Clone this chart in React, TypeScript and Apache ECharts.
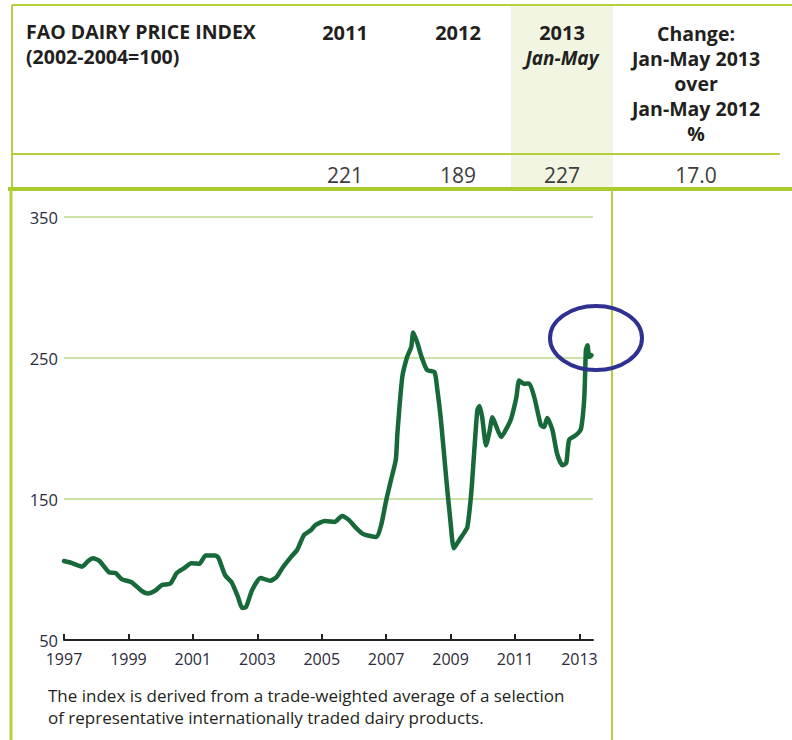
import React, { useEffect, useRef } from "react";
import * as echarts from "echarts";

// FAO Dairy Price Index (2002-2004=100)
const years = [
  1997.0, 1997.25, 1997.56, 1997.75, 1997.9, 1998.1, 1998.4, 1998.6, 1998.8, 1999.1,
  1999.4, 1999.6, 1999.86, 2000.04, 2000.3, 2000.5, 2000.73, 2000.95, 2001.2, 2001.4,
  2001.7, 2001.8, 2002.0, 2002.2, 2002.4, 2002.53, 2002.65, 2002.84, 2003.1, 2003.4,
  2003.6, 2003.8, 2004.05, 2004.24, 2004.45, 2004.67, 2004.8, 2005.1, 2005.4, 2005.63,
  2005.85, 2006.07, 2006.3, 2006.7, 2006.85, 2007.0, 2007.15, 2007.3, 2007.35, 2007.5,
  2007.65, 2007.78, 2007.84, 2007.97, 2008.1, 2008.27, 2008.5, 2008.58, 2008.7, 2008.86,
  2009.0, 2009.1, 2009.27, 2009.42, 2009.52, 2009.64, 2009.73, 2009.83, 2009.9, 2009.98,
  2010.1, 2010.2, 2010.3, 2010.4, 2010.57, 2010.76, 2010.88, 2011.04, 2011.13, 2011.29,
  2011.44, 2011.6, 2011.8, 2011.9, 2012.0, 2012.16, 2012.3, 2012.47, 2012.59, 2012.68,
  2012.9, 2013.05, 2013.15, 2013.2, 2013.25, 2013.3, 2013.37,
];
const values = [
  106, 104.5, 102, 106, 108, 106, 98, 97.5, 93, 91,
  85, 83, 85.5, 89, 90, 97.5, 101, 104.5, 104, 110,
  110, 108, 96, 91, 80.5, 72.7, 73.4, 85.5, 94, 92,
  94.7, 101.8, 109, 114, 124.5, 128, 131.5, 134.4, 133.7, 138,
  135, 129.4, 125, 123, 132, 149, 163.5, 178, 197, 236.5,
  250.7, 258, 268, 260.6, 250.7, 241.5, 240, 229, 206, 165.6,
  133, 115, 121, 126, 130, 154, 182.6, 213, 216, 208,
  188, 197, 208, 202.5, 194, 201, 207, 222, 234, 231.6,
  232, 222, 202.5, 201, 207.5, 199, 182.6, 174, 175.5, 192,
  195.4, 200, 222, 255.7, 259, 250.7, 252,
];

const startYear = 1997;
const endYear = 2013.42;
const xTickYears = [1997, 1999, 2001, 2003, 2005, 2007, 2009, 2011, 2013];
const yTicks = [50, 150, 250, 350];

const tableTitle = ["FAO DAIRY PRICE INDEX", "(2002-2004=100)"];
const tableYears = ["2011", "2012", "2013"];
const tableValues = ["221", "189", "227", "17.0"];
const changeHeader = ["Change:", "Jan-May 2013", "over", "Jan-May 2012", "%"];
const footnote = [
  "The index is derived from a trade-weighted average of a selection",
  "of representative internationally traded dairy products.",
];

const FONT = "'Open Sans', 'Noto Sans', sans-serif";
const GREEN = "#b3d13c";
const TEXT = "#231f20";

export default function App() {
  const ref = useRef<HTMLDivElement>(null);

  useEffect(() => {
    document.body.style.margin = "0";
    if (!ref.current) return;
    const chart = echarts.init(ref.current, null, { renderer: "svg" });

    const colX = [345, 458, 562, 696];

    const graphics: any[] = [
      // highlighted 2013 column
      { type: "rect", z: -10, shape: { x: 511, y: 6, width: 102, height: 182 }, style: { fill: "#f1f5e2" } },
      // table frame
      { type: "line", z: 1, shape: { x1: 12, y1: 5, x2: 792, y2: 5 }, style: { stroke: GREEN, lineWidth: 2 } },
      { type: "line", z: 1, shape: { x1: 12, y1: 5, x2: 12, y2: 190 }, style: { stroke: GREEN, lineWidth: 2 } },
      { type: "line", z: 1, shape: { x1: 12, y1: 154, x2: 780, y2: 154 }, style: { stroke: GREEN, lineWidth: 2 } },
      { type: "line", z: 1, shape: { x1: 8, y1: 189, x2: 792, y2: 189 }, style: { stroke: "#a9cb2f", lineWidth: 4 } },
      // chart frame
      { type: "line", z: 1, shape: { x1: 11, y1: 189, x2: 11, y2: 740 }, style: { stroke: GREEN, lineWidth: 3 } },
      { type: "line", z: 1, shape: { x1: 612, y1: 189, x2: 612, y2: 740 }, style: { stroke: GREEN, lineWidth: 2 } },
    ];

    tableTitle.forEach((t, i) => {
      graphics.push({
        type: "text", z: 5, x: 26, y: 31 + i * 25,
        style: { text: t, fill: TEXT, font: `bold 19.5px ${FONT}`, textAlign: "left", textVerticalAlign: "middle" },
      });
    });
    tableYears.forEach((t, i) => {
      graphics.push({
        type: "text", z: 5, x: colX[i], y: 32,
        style: { text: t, fill: TEXT, font: `bold 20px ${FONT}`, textAlign: "center", textVerticalAlign: "middle" },
      });
    });
    graphics.push({
      type: "text", z: 5, x: colX[2], y: 58,
      style: { text: "Jan-May", fill: TEXT, font: `italic bold 19px ${FONT}`, textAlign: "center", textVerticalAlign: "middle" },
    });
    changeHeader.forEach((t, i) => {
      graphics.push({
        type: "text", z: 5, x: colX[3], y: 33 + i * 25,
        style: { text: t, fill: TEXT, font: `bold 19.5px ${FONT}`, textAlign: "center", textVerticalAlign: "middle" },
      });
    });
    tableValues.forEach((t, i) => {
      graphics.push({
        type: "text", z: 5, x: colX[i], y: 175,
        style: { text: t, fill: "#3d3d3d", font: `21px ${FONT}`, textAlign: "center", textVerticalAlign: "middle" },
      });
    });
    footnote.forEach((t, i) => {
      graphics.push({
        type: "text", z: 5, x: 48, y: 695.5 + i * 22,
        style: { text: t, fill: TEXT, font: `17px ${FONT}`, textAlign: "left", textVerticalAlign: "middle" },
      });
    });
    graphics.push({
      type: "ellipse", z: 100, shape: { cx: 596, cy: 338, rx: 46, ry: 32 },
      style: { fill: "none", stroke: "#2e3192", lineWidth: 4 },
    });

    const xTickOffsets = xTickYears.map((y) => y - startYear);

    chart.setOption({
      animation: false,
      backgroundColor: "#ffffff",
      grid: { left: 64, right: 199, top: 217, bottom: 100, outerBoundsMode: "none", containLabel: false },
      xAxis: {
        type: "value",
        min: 0,
        max: endYear - startYear,
        axisLine: { show: true, lineStyle: { color: "#222", width: 2 } },
        axisTick: { show: true, inside: true, length: 6, customValues: xTickOffsets, lineStyle: { color: "#222", width: 2 } },
        axisLabel: {
          customValues: xTickOffsets,
          formatter: (v: number) => String(Math.round(v + startYear)),
          fontFamily: FONT, fontSize: 16, lineHeight: 14, color: "#2b2b3a", margin: 12,
        },
        splitLine: { show: false },
      },
      yAxis: {
        type: "value",
        min: yTicks[0],
        max: yTicks[yTicks.length - 1],
        interval: 100,
        axisLine: { show: false },
        axisTick: { show: false },
        axisLabel: { fontFamily: FONT, fontSize: 16.5, lineHeight: 14, color: "#2b2b3a", margin: 6 },
        splitLine: { show: true, lineStyle: { color: "#bcd98a", width: 1.5 } },
      },
      series: [
        {
          type: "line",
          data: years.map((y, i) => [y - startYear, values[i]]),
          showSymbol: false,
          symbol: "none",
          smooth: 0.2,
          lineStyle: { color: "#17693a", width: 4.5, join: "round", cap: "round" },
          z: 3,
        },
      ],
      graphic: graphics,
    });

    return () => chart.dispose();
  }, []);

  return <div ref={ref} style={{ width: 792, height: 740 }} />;
}
